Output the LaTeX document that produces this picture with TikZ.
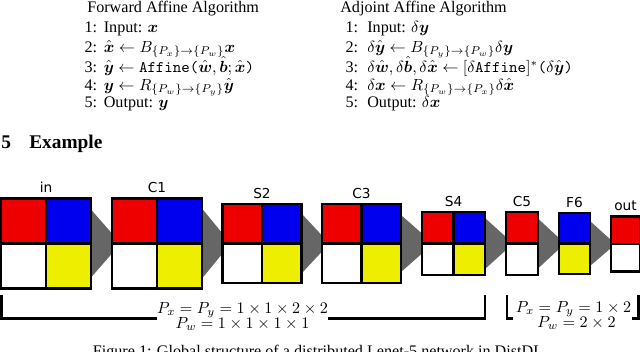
\documentclass[tikz,border=0pt]{standalone}
\usepackage{amsmath,amssymb}
\usepackage{fontspec}
\setmainfont{Liberation Serif}
\newfontfamily\labelfont{DejaVu Sans}
\usetikzlibrary{calc}
\pgfdeclarelayer{bg}
\pgfsetlayers{bg,main}
\definecolor{cred}{RGB}{238,0,0}
\definecolor{cblue}{RGB}{0,0,238}
\definecolor{cyellow}{RGB}{238,238,0}
\definecolor{cgray}{RGB}{102,102,102}
\tikzset{
  txt/.style={inner sep=0pt, font=\fontsize{10}{12}\selectfont},
  alg/.style={txt, anchor=base west},
  num/.style={txt, anchor=base east},
  mathlbl/.style={txt, anchor=base},
  sec/.style={inner sep=0pt, anchor=base west, font=\fontsize{12}{14}\selectfont\bfseries},
  lab/.style={inner sep=0pt, anchor=base, font=\labelfont\fontsize{8.5}{10}\selectfont},
  layer/.style={draw=black, fill=white, line width=1.7pt, inner sep=0pt, outer sep=0pt},
  four/.style={layer, path picture={
    \fill[cred] (path picture bounding box.north west) rectangle (path picture bounding box.center);
    \fill[cblue] (path picture bounding box.north east) rectangle (path picture bounding box.center);
    \fill[cyellow] (path picture bounding box.south east) rectangle (path picture bounding box.center);
    \draw[line width=1.7pt] (path picture bounding box.north) -- (path picture bounding box.south)
      (path picture bounding box.west) -- (path picture bounding box.east);
  }},
  two/.style 2 args={layer, path picture={
    \fill[#1] (path picture bounding box.north west) rectangle (path picture bounding box.east);
    \fill[#2] (path picture bounding box.west) rectangle (path picture bounding box.south east);
    \draw[line width=1.7pt] (path picture bounding box.west) -- (path picture bounding box.east);
  }},
  trap/.style={fill=cgray},
  brk/.style={draw=black, line width=1.7pt},
}
\begin{document}
\begin{tikzpicture}[x=0.62pt,y=-0.62pt]
\useasboundingbox (0,0) rectangle (640,351);
\clip (0,0) rectangle (640,351);

% Forward algorithm
\node[alg] (ftitle) at (87,12) {Forward Affine Algorithm};
\node[num] (fn1) at (97.5,32) {1:};
\node[alg] (fl1) at (103.5,32) {Input: $\boldsymbol{x}$};
\node[num] (fn2) at (97.5,52) {2:};
\node[alg] (fl2) at (103.5,52) {$\hat{\boldsymbol{x}} \leftarrow B_{\{P_x\}\to\{P_w\}}\boldsymbol{x}$};
\node[num] (fn3) at (97.5,72) {3:};
\node[alg] (fl3) at (103.5,72) {$\hat{\boldsymbol{y}} \leftarrow \texttt{Affine(}\hat{\boldsymbol{w}}, \hat{\boldsymbol{b}}; \hat{\boldsymbol{x}}\texttt{)}$};
\node[num] (fn4) at (97.5,90) {4:};
\node[alg] (fl4) at (103.5,90) {$\boldsymbol{y} \leftarrow R_{\{P_w\}\to\{P_y\}}\hat{\boldsymbol{y}}$};
\node[num] (fn5) at (97.5,107) {5:};
\node[alg] (fl5) at (103.5,107) {Output: $\boldsymbol{y}$};

% Adjoint algorithm
\node[alg] (atitle) at (340,12) {Adjoint Affine Algorithm};
\node[num] (an1) at (358.5,32) {1:};
\node[alg] (al1) at (367,32) {Input: $\delta\boldsymbol{y}$};
\node[num] (an2) at (358.5,52) {2:};
\node[alg] (al2) at (367,52) {$\delta\hat{\boldsymbol{y}} \leftarrow B_{\{P_y\}\to\{P_w\}}\delta\boldsymbol{y}$};
\node[num] (an3) at (358.5,72) {3:};
\node[alg] (al3) at (367,72) {$\delta\hat{\boldsymbol{w}}, \delta\hat{\boldsymbol{b}}, \delta\hat{\boldsymbol{x}} \leftarrow [\delta\texttt{Affine}]^*\texttt{(}\delta\hat{\boldsymbol{y}}\texttt{)}$};
\node[num] (an4) at (358.5,90) {4:};
\node[alg] (al4) at (367,90) {$\delta\boldsymbol{x} \leftarrow R_{\{P_w\}\to\{P_x\}}\delta\hat{\boldsymbol{x}}$};
\node[num] (an5) at (358.5,107) {5:};
\node[alg] (al5) at (367,107) {Output: $\delta\boldsymbol{x}$};

% Section heading
\node[sec] (secnum) at (1,148) {5};
\node[sec] (sectitle) at (29,148) {Example};

% Layers
\node[four, minimum width={90*0.62pt}, minimum height={90*0.62pt}] (in) at (46,243.5) {};
\node[four, minimum width={90*0.62pt}, minimum height={90*0.62pt}] (C1) at (157,243.5) {};
\node[four, minimum width={79*0.62pt}, minimum height={79*0.62pt}] (S2) at (262,243.5) {};
\node[four, minimum width={79*0.62pt}, minimum height={79*0.62pt}] (C3) at (361.5,243.5) {};
\node[four, minimum width={63*0.62pt}, minimum height={63*0.62pt}] (S4) at (453.5,243.5) {};
\node[two={cred}{white}, minimum width={32*0.62pt}, minimum height={63*0.62pt}] (C5) at (522,243.5) {};
\node[two={cblue}{cyellow}, minimum width={31*0.62pt}, minimum height={61*0.62pt}] (F6) at (574.5,243.5) {};
\node[two={cred}{white}, minimum width={29*0.62pt}, minimum height={55*0.62pt}] (out) at (625.5,244) {};

% Labels
\node[lab] (lin) at ($(in.north)+(0,-6)$) {in};
\node[lab] (lC1) at ($(C1.north)+(0,-6)$) {C1};
\node[lab] (lS2) at ($(S2.north)+(0,-6)$) {S2};
\node[lab] (lC3) at ($(C3.north)+(0,-6)$) {C3};
\node[lab] (lS4) at ($(S4.north)+(0,-6)$) {S4};
\node[lab] (lC5) at ($(C5.north)+(0,-6)$) {C5};
\node[lab] (lF6) at ($(F6.north)+(0,-6)$) {F6};
\node[lab] (lout) at ($(out.north)+(0,-6)$) {out};

% Trapezoids
\begin{pgfonlayer}{bg}
\fill[trap] ($(in.east)+(0,-34)$) -- ($(C1.west)+(0,-10)$) -- ($(C1.west)+(0,10)$) -- ($(in.east)+(0,34)$) -- cycle;
\fill[trap] ($(C1.east)+(0,-35)$) -- ($(S2.west)+(0,-10)$) -- ($(S2.west)+(0,10)$) -- ($(C1.east)+(0,35)$) -- cycle;
\fill[trap] ($(S2.east)+(0,-30)$) -- ($(C3.west)+(0,-8)$) -- ($(C3.west)+(0,8)$) -- ($(S2.east)+(0,30)$) -- cycle;
\fill[trap] ($(C3.east)+(0,-28.5)$) -- ($(S4.west)+(0,-10)$) -- ($(S4.west)+(0,10)$) -- ($(C3.east)+(0,28.5)$) -- cycle;
\fill[trap] ($(S4.east)+(0,-25.5)$) -- ($(C5.west)+(0,-6.5)$) -- ($(C5.west)+(0,6.5)$) -- ($(S4.east)+(0,25.5)$) -- cycle;
\fill[trap] ($(C5.east)+(0,-25)$) -- ($(F6.west)+(0,-5.5)$) -- ($(F6.west)+(0,5.5)$) -- ($(C5.east)+(0,25)$) -- cycle;
\fill[trap] ($(F6.east)+(0,-22.5)$) -- ($(out.west)+(0,-4)$) -- ($(out.west)+(0,4)$) -- ($(F6.east)+(0,22.5)$) -- cycle;
\end{pgfonlayer}

% Bracket texts
\node[mathlbl] (lm1) at (242.5,313) {$P_x = P_y = 1\times 1\times 2\times 2$};
\node[mathlbl] (lm2) at (242.5,328) {$P_w = 1\times 1\times 1\times 1$};
\node[mathlbl] (rm1) at (573.5,312) {$P_x = P_y = 1\times 2$};
\node[mathlbl] (rm2) at (576.5,327) {$P_w = 2\times 2$};

% Brackets
\coordinate (lbt) at (1.5,295);
\coordinate (lbb) at (1.5,318.5);
\coordinate (lrt) at (485,295);
\coordinate (lrb) at (485,318.5);
\draw[brk] (lbt) -- (lbb) -- (lm1.west |- lbb);
\draw[brk] (lm1.east |- lrb) -- (lrb) -- (lrt);
\coordinate (rbt) at (507,295);
\coordinate (rbb) at (507,318.5);
\coordinate (rrt) at (638.5,295);
\coordinate (rrb) at (638.5,318.5);
\draw[brk] (rbt) -- (rbb) -- ($(rm1.west |- rbb)+(-2,0)$);
\draw[brk] (rm1.east |- rrb) -- (rrb) -- (rrt);

% Caption
\node[mathlbl] (cap) at (318,356) {Figure 1: Global structure of a distributed Lenet-5 network in DistDL};
\end{tikzpicture}
\end{document}
